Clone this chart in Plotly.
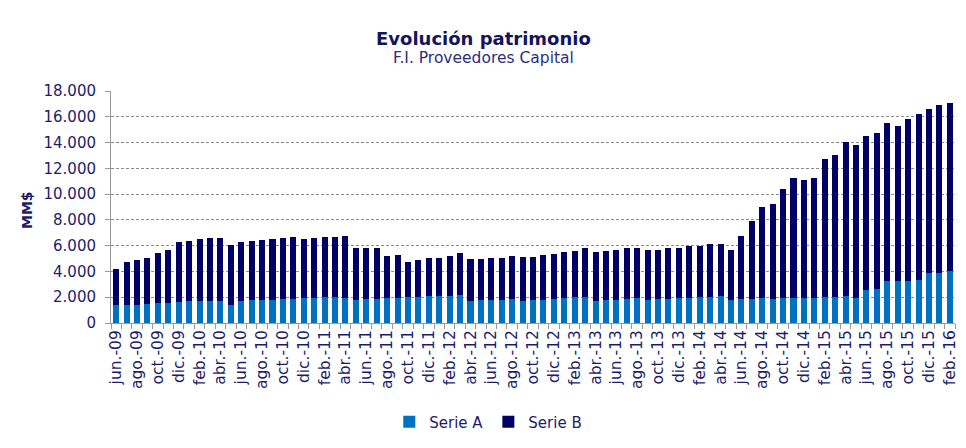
import plotly.graph_objects as go

months = ["ene.", "feb.", "mar.", "abr.", "may.", "jun.", "jul.", "ago.", "sep.", "oct.", "nov.", "dic."]
categories = []
y, m = 2009, 5
while (y, m) <= (2016, 1):
    categories.append(f"{months[m]}-{str(y)[2:]}")
    m += 1
    if m == 12:
        m = 0
        y += 1

total = [4160, 4730, 4860, 5010, 5450, 5660, 6250, 6360, 6510, 6590,
         6590, 6020, 6300, 6360, 6430, 6510, 6590, 6640, 6510, 6590,
         6640, 6640, 6740, 5790, 5790, 5840, 5190, 5300, 4700, 4860,
         5010, 5060, 5190, 5450, 4960, 4960, 5010, 5060, 5190, 5140,
         5140, 5300, 5350, 5480, 5580, 5840, 5480, 5580, 5680, 5840,
         5840, 5630, 5680, 5790, 5840, 5940, 5990, 6100, 6150, 5630,
         6770, 7880, 9020, 9200, 10360, 11240, 11090, 11240, 12760, 13020,
         14080, 13820, 14520, 14730, 15480, 15320, 15810, 16180, 16640, 16900,
         17050]

serie_a = [1420, 1420, 1420, 1500, 1580, 1580, 1650, 1730, 1730, 1730,
           1730, 1420, 1730, 1810, 1810, 1810, 1830, 1830, 1940, 1940,
           1990, 1990, 1940, 1810, 1830, 1830, 1940, 1940, 1990, 1990,
           2090, 2090, 2090, 2140, 1730, 1810, 1810, 1810, 1860, 1730,
           1810, 1810, 1860, 1940, 1990, 1990, 1730, 1810, 1810, 1860,
           1940, 1810, 1860, 1860, 1940, 1940, 1990, 1990, 2060, 1810,
           1860, 1860, 1940, 1860, 1940, 1940, 1940, 1940, 1990, 1990,
           2090, 1940, 2580, 2660, 3280, 3230, 3280, 3360, 3900, 3900,
           4030]

serie_b = [t - a for t, a in zip(total, serie_a)]

tick_text = [c if i % 2 == 0 else "" for i, c in enumerate(categories)]
y_ticks = [0, 2000, 4000, 6000, 8000, 10000, 12000, 14000, 16000, 18000]

navy_text = "#1c1c6c"
font_family = "DejaVu Sans, Verdana, sans-serif"

fig = go.Figure()
fig.add_trace(go.Bar(x=categories, y=serie_a, name="Serie A", marker_color="#0070C0",
                     marker_line_width=0))
fig.add_trace(go.Bar(x=categories, y=serie_b, name="Serie B", marker_color="#000066",
                     marker_line_width=0))

fig.update_layout(
    width=966, height=448,
    barmode="stack", bargap=0.42,
    separators=",.",
    paper_bgcolor="white", plot_bgcolor="white",
    margin=dict(l=111, r=11, t=91, b=125, autoexpand=False),
    font=dict(family=font_family, color=navy_text, size=15),
    showlegend=True,
    legend=dict(orientation="h", x=0.447, xanchor="center", y=-0.427, yanchor="middle",
                traceorder="normal", font=dict(size=15, color=navy_text),
                itemwidth=30, bgcolor="rgba(0,0,0,0)"),
    annotations=[
        dict(text="<b>Evolución patrimonio</b>", xref="paper", yref="paper",
             x=0.441, y=1.228, showarrow=False, xanchor="center", yanchor="middle",
             font=dict(size=18, color="#14145e", family=font_family)),
        dict(text="F.I. Proveedores Capital", xref="paper", yref="paper",
             x=0.441, y=1.142, showarrow=False, xanchor="center", yanchor="middle",
             font=dict(size=15.5, color="#2e2e80", family=font_family)),
        dict(text="<b>MM$</b>", xref="paper", yref="paper", x=-0.0995, y=0.487,
             showarrow=False, textangle=-90, xanchor="center", yanchor="middle",
             font=dict(size=14, color=navy_text, family=font_family)),
    ],
)

fig.update_xaxes(
    type="category", tickmode="array", tickvals=categories, ticktext=tick_text,
    tickangle=-90, tickson="boundaries", ticks="outside", ticklen=5,
    tickcolor="#999999", showline=True, linecolor="#999999", linewidth=1,
    showgrid=False, tickfont=dict(size=15.5, color=navy_text), range=[-0.5, 80.5],
)
fig.update_yaxes(
    range=[0, 18000], tickvals=y_ticks, tickformat=",d", ticks="outside", ticklen=5,
    tickcolor="#999999", showline=True, linecolor="#999999", linewidth=1,
    showgrid=True, gridcolor="#8c8c8c", gridwidth=1, griddash="3px,2px",
    zeroline=False, tickfont=dict(size=15, color=navy_text), ticklabelstandoff=6,
)

fig.write_html("out.html", config={"displayModeBar": False},
               post_script="document.body.style.margin='0';")
